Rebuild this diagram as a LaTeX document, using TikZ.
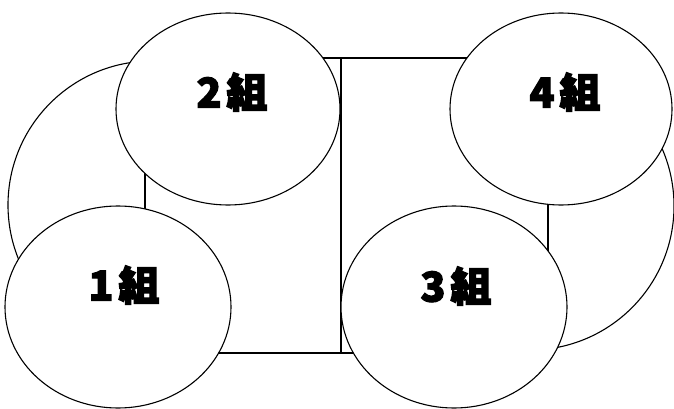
\documentclass[tikz,border=0pt]{standalone}
\usepackage{fontspec}
\newfontfamily\jpfont{Noto Sans CJK JP}[BoldFeatures={FakeBold=3}]
\usepackage{tikz}
\usetikzlibrary{positioning}
\tikzset{
  line/.style={draw=black,line width=1.1pt},
  back/.style={line,fill=white},
  group/.style={line,fill=white},
  glabel/.style={font=\jpfont\bfseries\fontsize{41}{41}\selectfont,inner sep=0pt},
}
\newcommand{\grp}[1]{#1\kern5pt 組}

\begin{document}
\begin{tikzpicture}[x=1pt,y=-1pt]
  \useasboundingbox (0,0) rectangle (674,409);
  % big circles behind
  \draw[back] (152,205) circle (144);
  \draw[back] (530,206) circle (144);
  % table
  \coordinate (tl) at (145,58);\coordinate (br) at (548,353);
  \coordinate (mt) at (341,58);\coordinate (mb) at (341,353);
  \draw[back] (tl) rectangle (br);
  \draw[line] (mt)--(mb);
  % groups
  \coordinate (g2) at (228,109);\coordinate (g4) at (561,109);
  \coordinate (g1) at (118,307);\coordinate (g3) at (454,307);
  \draw[group] (g2) ellipse (112 and 96);
  \draw[group] (g4) ellipse (111 and 96);
  \draw[group] (g1) ellipse (113 and 101);
  \draw[group] (g3) ellipse (113 and 101);
  \node[glabel] (l2) at (232,92) {\grp{2}};
  \node[glabel] (l4) at (565,92) {\grp{4}};
  \node[glabel] (l1) at (124,285) {\grp{1}};
  \node[glabel] (l3) at (456,286) {\grp{3}};
\end{tikzpicture}
\end{document}
